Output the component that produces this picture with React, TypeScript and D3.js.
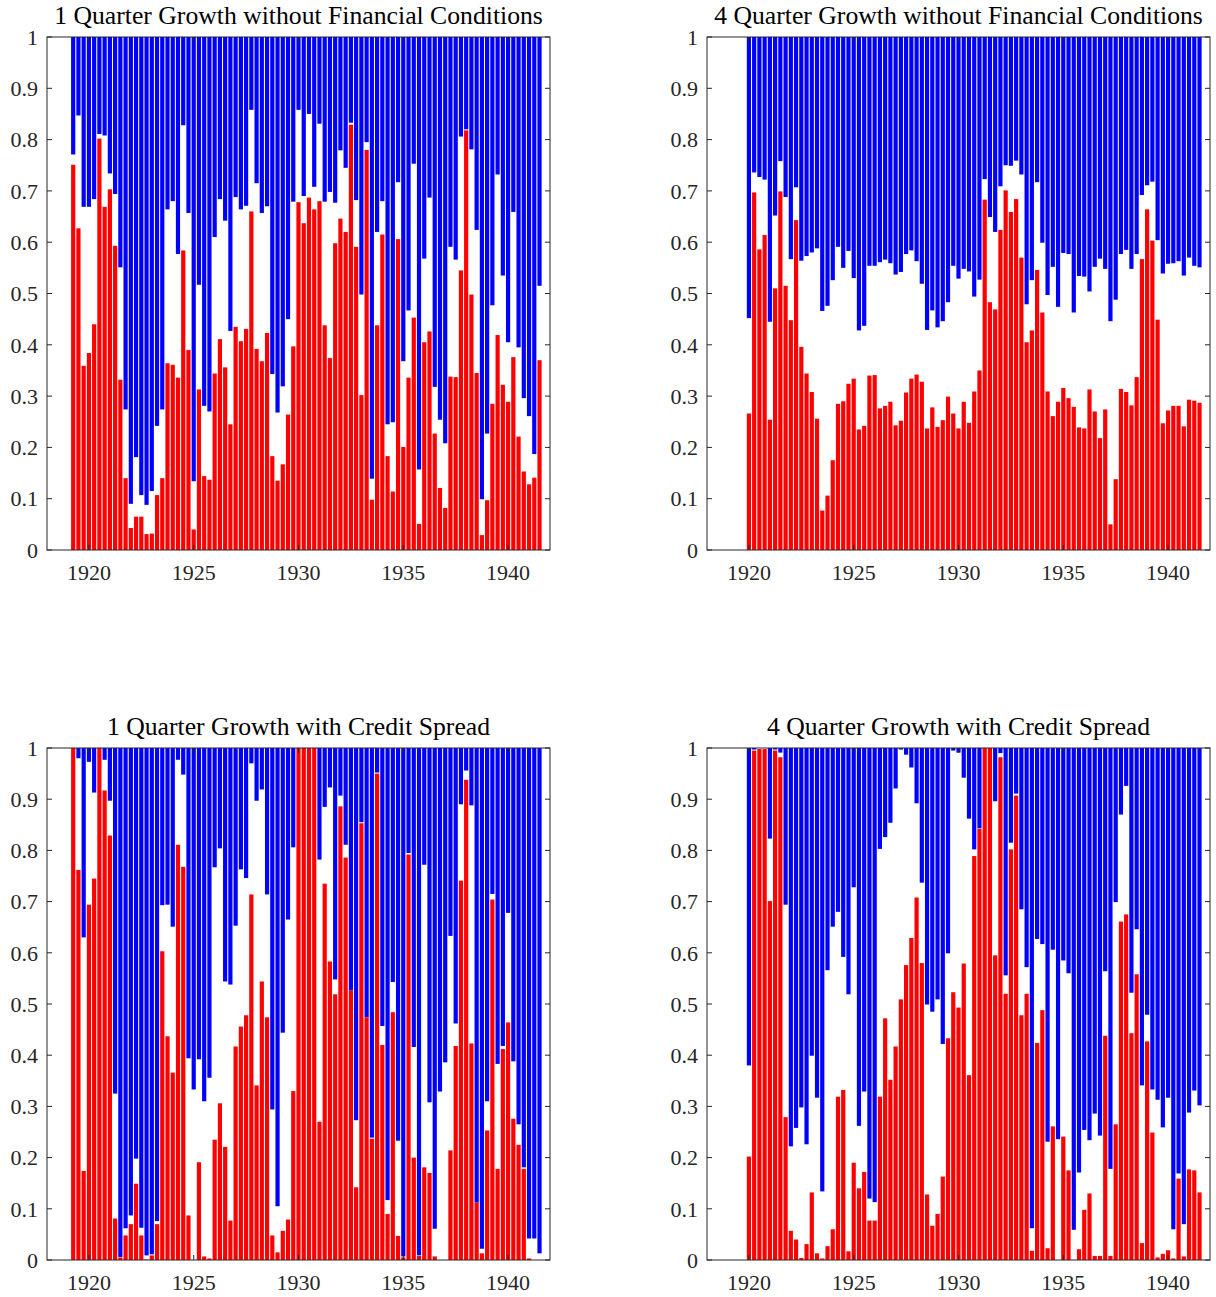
import React from "react";
import * as d3 from "d3";

// ---------- DATA ----------
const titles = [
  "1 Quarter Growth without Financial Conditions",
  "4 Quarter Growth without Financial Conditions",
  "1 Quarter Growth with Credit Spread",
  "4 Quarter Growth with Credit Spread",
];
const xTicks = [1920, 1925, 1930, 1935, 1940];
const yTicks = [0, 0.1, 0.2, 0.3, 0.4, 0.5, 0.6, 0.7, 0.8, 0.9, 1];
const startQuarter1 = 1919.25; // 1-quarter panels
const startQuarter4 = 1920.0; // 4-quarter panels

// red bars: height from 0
const p1Red = [
  0.751, 0.627, 0.359, 0.384, 0.44, 0.802, 0.669, 0.703, 0.593, 0.332,
  0.14, 0.043, 0.065, 0.065, 0.031, 0.032, 0.107, 0.14, 0.364, 0.361,
  0.336, 0.584, 0.39, 0.04, 0.313, 0.144, 0.137, 0.344, 0.411, 0.356,
  0.245, 0.435, 0.407, 0.431, 0.66, 0.392, 0.368, 0.423, 0.183, 0.135,
  0.167, 0.264, 0.397, 0.678, 0.637, 0.687, 0.664, 0.68, 0.438, 0.374,
  0.598, 0.646, 0.62, 0.829, 0.591, 0.302, 0.78, 0.098, 0.438, 0.615,
  0.183, 0.114, 0.606, 0.201, 0.336, 0.453, 0.051, 0.405, 0.426, 0.227,
  0.121, 0.082, 0.338, 0.337, 0.545, 0.818, 0.498, 0.345, 0.029, 0.097,
  0.285, 0.419, 0.322, 0.289, 0.376, 0.221, 0.153, 0.128, 0.141, 0.37,
];
// blue bars: span from this value up to 1
const p1Blue = [
  0.771, 0.847, 0.669, 0.669, 0.684, 0.811, 0.808, 0.734, 0.694, 0.551,
  0.274, 0.09, 0.181, 0.107, 0.088, 0.115, 0.242, 0.274, 0.664, 0.68,
  0.577, 0.828, 0.657, 0.134, 0.517, 0.281, 0.27, 0.61, 0.684, 0.642,
  0.427, 0.688, 0.664, 0.671, 0.858, 0.715, 0.657, 0.67, 0.343, 0.268,
  0.319, 0.45, 0.679, 0.858, 0.69, 0.85, 0.708, 0.831, 0.679, 0.698,
  0.677, 0.779, 0.745, 0.833, 0.682, 0.498, 0.795, 0.139, 0.62, 0.68,
  0.245, 0.249, 0.717, 0.368, 0.467, 0.753, 0.157, 0.568, 0.687, 0.318,
  0.254, 0.208, 0.591, 0.566, 0.806, 0.82, 0.781, 0.624, 0.099, 0.227,
  0.477, 0.732, 0.535, 0.405, 0.659, 0.395, 0.296, 0.261, 0.187, 0.515,
];

const p2Red = [
  0.266, 0.697, 0.586, 0.614, 0.254, 0.51, 0.699, 0.515, 0.448, 0.643,
  0.396, 0.344, 0.308, 0.256, 0.077, 0.106, 0.175, 0.285, 0.29, 0.324,
  0.334, 0.235, 0.242, 0.34, 0.341, 0.276, 0.281, 0.289, 0.243, 0.252,
  0.307, 0.334, 0.342, 0.328, 0.237, 0.278, 0.24, 0.253, 0.299, 0.266,
  0.237, 0.289, 0.248, 0.309, 0.35, 0.683, 0.483, 0.469, 0.624, 0.701,
  0.659, 0.684, 0.57, 0.405, 0.428, 0.546, 0.463, 0.309, 0.261, 0.289,
  0.316, 0.296, 0.279, 0.239, 0.237, 0.313, 0.27, 0.218, 0.274, 0.05,
  0.138, 0.314, 0.308, 0.282, 0.337, 0.567, 0.664, 0.603, 0.449, 0.247,
  0.272, 0.281, 0.281, 0.241, 0.293, 0.291, 0.287,
];
const p2Blue = [
  0.452, 0.736, 0.727, 0.722, 0.445, 0.652, 0.758, 0.688, 0.567, 0.707,
  0.564, 0.573, 0.58, 0.588, 0.466, 0.476, 0.526, 0.591, 0.55, 0.583,
  0.53, 0.428, 0.437, 0.554, 0.554, 0.561, 0.566, 0.559, 0.537, 0.542,
  0.577, 0.584, 0.563, 0.519, 0.429, 0.467, 0.434, 0.446, 0.483, 0.554,
  0.529, 0.548, 0.543, 0.494, 0.527, 0.723, 0.649, 0.62, 0.709, 0.75,
  0.749, 0.759, 0.732, 0.479, 0.526, 0.717, 0.599, 0.497, 0.552, 0.474,
  0.579, 0.577, 0.463, 0.534, 0.533, 0.504, 0.552, 0.568, 0.548, 0.446,
  0.488, 0.577, 0.585, 0.548, 0.577, 0.692, 0.711, 0.718, 0.604, 0.539,
  0.558, 0.559, 0.563, 0.535, 0.57, 0.554, 0.551,
];

const p3Red = [
  1.0, 0.762, 0.174, 0.694, 0.745, 1.0, 0.917, 0.829, 0.081, 0.005,
  0.048, 0.07, 0.149, 0.048, 0.001, 0.009, 0.07, 0.603, 0.437, 0.366,
  0.811, 0.768, 0.087, 0.0, 0.191, 0.007, 0.003, 0.235, 0.306, 0.221,
  0.077, 0.417, 0.456, 0.478, 0.714, 0.341, 0.544, 0.474, 0.048, 0.015,
  0.057, 0.079, 0.33, 1.0, 1.0, 1.0, 1.0, 0.27, 0.735, 0.583,
  0.519, 0.886, 0.786, 0.526, 0.142, 0.853, 0.474, 0.237, 0.95, 0.42,
  0.09, 0.484, 0.047, 0.005, 0.792, 0.2, 0.008, 0.181, 0.17, 0.007,
  0.0, 0.0, 0.214, 0.418, 0.741, 0.938, 0.423, 0.112, 0.013, 0.253,
  0.704, 0.178, 0.412, 0.464, 0.276, 0.225, 0.178, 0.003, 0.0, 0.0,
];
const p3Blue = [
  1.0, 0.98, 0.63, 0.973, 0.913, 1.0, 0.977, 0.897, 0.325, 0.006,
  0.062, 0.087, 0.198, 0.063, 0.009, 0.011, 0.076, 0.693, 0.694, 0.651,
  0.977, 0.948, 0.394, 0.333, 0.392, 0.31, 0.356, 0.767, 0.804, 0.544,
  0.538, 0.653, 0.763, 0.746, 0.97, 0.897, 0.919, 0.714, 0.294, 0.105,
  0.444, 0.665, 0.806, 1.0, 1.0, 1.0, 1.0, 0.782, 0.885, 0.923,
  0.548, 0.907, 0.811, 0.526, 0.273, 0.855, 0.474, 0.239, 0.952, 0.457,
  0.117, 0.543, 0.233, 0.007, 0.795, 0.416, 0.009, 0.772, 0.308, 0.061,
  0.329, 0.386, 0.633, 0.462, 0.89, 0.956, 0.888, 0.112, 0.022, 0.31,
  0.715, 0.383, 0.418, 0.678, 0.388, 0.265, 0.181, 0.042, 0.042, 0.013,
];

const p4Red = [
  0.202, 0.995, 0.998, 0.998, 0.701, 0.995, 0.982, 0.279, 0.057, 0.04,
  0.004, 0.031, 0.132, 0.013, 0.003, 0.027, 0.06, 0.319, 0.332, 0.017,
  0.19, 0.14, 0.172, 0.077, 0.077, 0.319, 0.472, 0.352, 0.417, 0.509,
  0.576, 0.629, 0.708, 0.58, 0.128, 0.067, 0.09, 0.163, 0.433, 0.523,
  0.493, 0.579, 0.361, 0.789, 0.842, 1.0, 1.0, 0.595, 0.982, 0.52,
  0.802, 0.907, 0.478, 0.52, 0.018, 0.424, 0.488, 0.023, 0.261, 0.0,
  0.241, 0.175, 0.0, 0.021, 0.098, 0.13, 0.008, 0.008, 0.438, 0.008,
  0.265, 0.661, 0.675, 0.443, 0.558, 0.033, 0.427, 0.249, 0.005, 0.012,
  0.019, 0.003, 0.159, 0.007, 0.177, 0.175, 0.132,
];
const p4Blue = [
  0.38, 0.997, 1.0, 1.0, 0.823, 0.997, 0.991, 0.694, 0.222, 0.258,
  0.298, 0.226, 0.399, 0.317, 0.134, 0.566, 0.651, 0.68, 0.592, 0.519,
  0.728, 0.262, 0.329, 0.12, 0.113, 0.803, 0.826, 0.854, 0.921, 0.997,
  0.987, 0.962, 0.892, 0.737, 0.499, 0.485, 0.509, 0.422, 0.599, 0.995,
  0.991, 0.942, 0.862, 0.802, 0.843, 1.0, 1.0, 0.896, 0.99, 0.556,
  0.815, 0.911, 0.685, 0.572, 0.062, 0.627, 0.617, 0.231, 0.606, 0.236,
  0.585, 0.56, 0.059, 0.171, 0.254, 0.234, 0.286, 0.243, 0.564, 0.178,
  0.699, 0.87, 0.926, 0.522, 0.646, 0.341, 0.479, 0.333, 0.313, 0.259,
  0.317, 0.06, 0.169, 0.07, 0.288, 0.331, 0.302,
];

// ---------- LAYOUT ----------
const W = 1216;
const H = 1297;
const panels = [
  { title: titles[0], red: p1Red, blue: p1Blue, start: startQuarter1, left: 47, right: 550, top: 37, bottom: 550 },
  { title: titles[1], red: p2Red, blue: p2Blue, start: startQuarter4, left: 707, right: 1210, top: 37, bottom: 550 },
  { title: titles[2], red: p3Red, blue: p3Blue, start: startQuarter1, left: 47, right: 550, top: 748, bottom: 1260 },
  { title: titles[3], red: p4Red, blue: p4Blue, start: startQuarter4, left: 707, right: 1210, top: 748, bottom: 1260 },
];

const FONT = "'Liberation Serif', 'Times New Roman', serif";
const AX = "#262626";
const RED = "#ff0000";
const BLUE = "#0000ff";

function Panel({ p }: { p: (typeof panels)[number] }) {
  const x = d3.scaleLinear().domain([1918, 1942]).range([p.left, p.right]);
  const y = d3.scaleLinear().domain([0, 1]).range([p.bottom, p.top]);
  const bw = (x(1918.25) - x(1918)) * 0.8;
  const tick = 5;
  return (
    <g>
      {p.blue.map((b, i) => {
        const xc = x(p.start + i * 0.25);
        return (
          <rect key={"b" + i} x={xc - bw / 2} y={y(1)} width={bw} height={Math.max(0, y(b) - y(1))} fill={BLUE} />
        );
      })}
      {p.red.map((r, i) => {
        const xc = x(p.start + i * 0.25);
        return (
          <rect key={"r" + i} x={xc - bw / 2} y={y(r)} width={bw} height={Math.max(0, y(0) - y(r))} fill={RED} />
        );
      })}
      <rect x={p.left} y={p.top} width={p.right - p.left} height={p.bottom - p.top} fill="none" stroke={AX} strokeWidth={1} />
      {yTicks.map((t) => (
        <g key={"y" + t}>
          <line x1={p.left} x2={p.left + tick} y1={y(t)} y2={y(t)} stroke={AX} />
          <line x1={p.right} x2={p.right - tick} y1={y(t)} y2={y(t)} stroke={AX} />
          <text x={p.left - 9} y={y(t)} dy="0.35em" textAnchor="end" fontFamily={FONT} fontSize={22} fill={AX}>
            {d3.format("~g")(t)}
          </text>
        </g>
      ))}
      {xTicks.map((t) => (
        <g key={"x" + t}>
          <line x1={x(t)} x2={x(t)} y1={p.bottom} y2={p.bottom - tick} stroke={AX} />
          <line x1={x(t)} x2={x(t)} y1={p.top} y2={p.top + tick} stroke={AX} />
          <text x={x(t)} y={p.bottom + 30} textAnchor="middle" fontFamily={FONT} fontSize={22} fill={AX}>
            {t}
          </text>
        </g>
      ))}
      <text x={(p.left + p.right) / 2} y={p.top - 13} textAnchor="middle" fontFamily={FONT} fontSize={25.7} fill="#000">
        {p.title}
      </text>
    </g>
  );
}

export default function App() {
  return (
    <svg
      width={W}
      height={H}
      viewBox={`0 0 ${W} ${H}`}
      style={{ position: "absolute", left: 0, top: 0, display: "block", background: "#fff" }}
    >
      <rect x={0} y={0} width={W} height={H} fill="#fff" />
      {panels.map((p, i) => (
        <Panel key={i} p={p} />
      ))}
    </svg>
  );
}
